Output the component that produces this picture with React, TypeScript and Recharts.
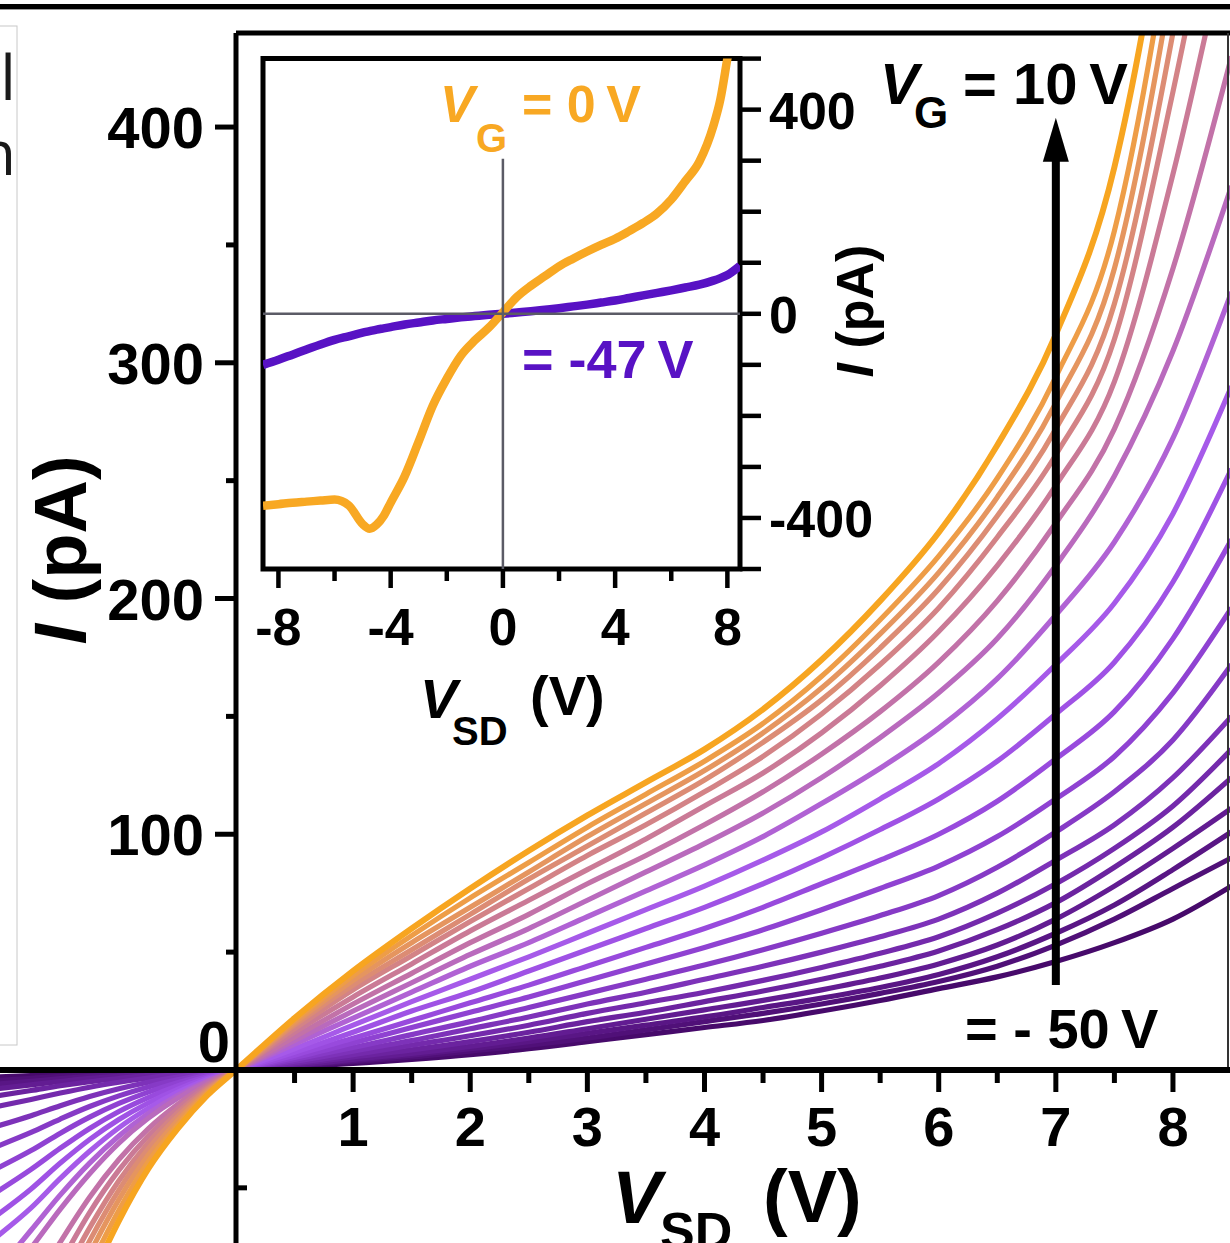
import React from 'react';
import {
  LineChart,
  Line,
  XAxis,
  YAxis,
  ReferenceLine,
  ReferenceDot,
  ReferenceArea,
} from 'recharts';

const SANS = '"Liberation Sans", Arial, Helvetica, sans-serif';

// source-drain bias of the main sweeps (V)
const biasV = [
  -2.05, -1.75, -1.5, -1.25, -1, -0.75, -0.5, -0.25, 0,
  0.5, 1, 1.5, 2, 2.5, 3, 3.5, 4, 4.5, 5, 5.5, 6, 6.5, 7, 7.5, 8, 8.5,
];

// I (pA) per gate voltage, V_G = -50 V ... +10 V in 3 V steps
const iVgM50 = [-3, -2.4, -1.8, -1.35, -0.95, -0.6, -0.35, -0.15, 0, 1.2, 2.8, 4.5, 6.5, 9, 12, 15, 18, 21, 25, 29.5, 34.5, 39.5, 46, 54, 64, 78];
const iVgM47 = [-4.5, -3.5, -2.7, -2, -1.4, -0.9, -0.5, -0.22, 0, 1.5, 3.5, 5.5, 8, 10.5, 13.5, 17, 20.5, 24, 28, 32.5, 37.5, 44, 53, 64, 77, 90];
const iVgM44 = [-6, -4.8, -3.7, -2.7, -1.9, -1.2, -0.7, -0.3, 0, 1.8, 4, 6.3, 9, 12, 15.5, 19, 22.5, 26.5, 30.5, 35, 40.5, 48, 58, 70, 85, 101];
const iVgM41 = [-8, -6.3, -4.9, -3.6, -2.6, -1.7, -0.95, -0.4, 0, 2, 4.5, 7, 10, 13.5, 17.5, 21.5, 25.5, 29.5, 34, 39, 45, 53, 64, 78, 94, 111];
const iVgM38 = [-11, -8.7, -6.7, -5, -3.6, -2.3, -1.3, -0.55, 0, 2.5, 5.5, 8.5, 12, 16, 20.5, 24.5, 29, 33.5, 38.5, 44, 50.5, 59.5, 71, 86, 103, 124];
const iVgM35 = [-15.6, -12.5, -9.8, -7.3, -5.2, -3.4, -1.9, -0.8, 0, 3, 6.5, 10.5, 14.5, 19, 24, 28.5, 33, 38, 43.5, 49.5, 56.5, 66.5, 79, 94, 112, 136];
const iVgM32 = [-24, -19.4, -15.2, -11.3, -8, -5.2, -3, -1.3, 0, 3.7, 8, 12.5, 17.5, 22.5, 28, 33, 38.5, 44, 50, 56.5, 64, 75, 89, 104, 124, 150];
const iVgM29 = [-32.6, -26.5, -20.8, -15.5, -11, -7.2, -4.2, -1.8, 0, 4.5, 9.5, 15, 20.5, 26.5, 32.5, 38.5, 44.5, 51, 58, 65.5, 74, 86, 101, 118, 140, 172];
const iVgM26 = [-42, -34.2, -26.8, -20, -14.2, -9.4, -5.4, -2.3, 0, 5.3, 11.5, 18, 24.5, 31, 38, 45, 52, 59.5, 68, 77, 86.5, 99, 115, 133, 160, 196];
const iVgM23 = [-52, -42.2, -33.2, -24.8, -17.6, -11.7, -6.8, -2.9, 0, 6.3, 13.5, 21, 28.5, 36, 44, 52, 60, 69, 79, 89, 100, 114, 132, 152, 183, 225];
const iVgM20 = [-62, -50.5, -39.5, -29.5, -21, -14, -8.2, -3.5, 0, 7.5, 16, 25, 33, 42, 51, 60, 69, 79, 90, 102, 115, 131, 151, 173, 207, 255];
const iVgM17 = [-71, -58.5, -46, -34.5, -24.5, -16.3, -9.5, -4.1, 0, 9, 19, 29, 38.5, 48, 58, 68, 78, 89, 101, 115, 130, 149, 172, 198, 236, 290];
const iVgM14 = [-86, -68, -53, -39.5, -28, -18.5, -10.8, -4.7, 0, 11, 22, 33, 44, 54, 65, 76, 87, 99, 113, 128, 145, 166, 193, 224, 268, 330];
const iVgM11 = [-93, -75.5, -59, -44, -31, -20.5, -12, -5.2, 0, 12.5, 25, 37, 49, 60, 72, 84, 96, 109, 124, 141, 160, 183, 214, 252, 305, 375];
const iVgM8 = [-115, -93, -73, -54, -38, -25, -14.7, -6.3, 0, 14, 28, 41, 54, 66, 79, 91, 104, 118, 134, 152, 173, 199, 232, 272, 340, 430];
const iVgM5 = [-128, -104, -82, -60.5, -42.5, -28, -16.5, -7.1, 0, 16, 31, 45, 59, 72, 85, 98, 112, 126, 143, 163, 186, 214, 248, 292, 380, 490];
const iVgM2 = [-140, -114, -90, -67, -47, -31, -18.2, -7.9, 0, 17.5, 34, 48.5, 63, 77, 91, 104, 118, 133, 151, 172, 196, 226, 261, 310, 415, 540];
const iVgP1 = [-150, -122, -97, -72.5, -51, -33.5, -19.8, -8.6, 0, 19, 36, 51, 66, 81, 95, 109, 123, 139, 157, 179, 204, 235, 272, 325, 440, 590];
const iVgP4 = [-160, -130, -104, -78, -55, -36.2, -21.5, -9.4, 0, 20, 38, 54, 69, 84, 99, 113, 127, 143, 162, 185, 211, 243, 283, 340, 465, 640];
const iVgP7 = [-172, -140, -111, -84, -59.5, -39, -23.3, -10.2, 0, 21, 40, 57, 73, 88, 103, 117, 131, 147, 167, 191, 218, 251, 294, 356, 490, 680];
const iVgP10 = [-180, -148, -118, -90, -64, -42, -25, -11, 0, 22, 42, 60, 77, 93, 108, 122, 136, 153, 174, 199, 228, 265, 312, 383, 520, 720];

const gateSweeps = [
  iVgM50, iVgM47, iVgM44, iVgM41, iVgM38, iVgM35, iVgM32, iVgM29, iVgM26, iVgM23, iVgM20,
  iVgM17, iVgM14, iVgM11, iVgM8, iVgM5, iVgM2, iVgP1, iVgP4, iVgP7, iVgP10,
];

// dark purple -> violet -> mauve -> orange
const sweepColors = [
  '#470a6b', '#501078', '#591685', '#621c92', '#6b239f', '#742aac', '#7d32b9',
  '#863ac6', '#8f42d2', '#984add', '#9f52e5', '#a65ae9', '#b062d4', '#b96abd',
  '#c272a8', '#ca7a96', '#d38386', '#dc8c74', '#e5955f', '#ee9d47', '#f7a520',
];

// inset sweeps over the full bias range
const insetBiasV = [
  -8.55, -8, -7.5, -7, -6.5, -6, -5.5, -5, -4.75, -4.5, -4.25, -4, -3.5, -3, -2.5, -2, -1.5, -1, -0.5, 0,
  0.5, 1, 1.5, 2, 2.5, 3, 3.5, 4, 4.5, 5, 5.5, 6, 6.5, 7, 7.5, 7.75, 8, 8.45,
];
const insetVg0 = [
  -376, -373, -370, -368, -366, -364, -375, -412, -421, -413, -396, -370, -318, -250, -180, -127, -82, -52, -27, 3,
  33, 55, 74, 93, 108, 122, 135, 147, 162, 178, 197, 224, 260, 298, 368, 420, 500, 640,
];
const insetVgM47 = [
  -100, -90, -80, -70, -60, -51, -44, -37, -34, -31, -28.5, -26, -21, -17, -13, -10, -7, -4.5, -2, 0,
  2.5, 5, 8, 11, 14.5, 18, 22, 26, 31, 36, 41, 46, 51.5, 57, 65, 70, 76, 94,
];

const xTicksMajor = [1, 2, 3, 4, 5, 6, 7, 8];
const xTicksMinor = [0.5, 1.5, 2.5, 3.5, 4.5, 5.5, 6.5, 7.5];
const yTicksMajor = [100, 200, 300, 400];
const yTicksMinor = [50, 150, 250, 350];
const yTicksBelow = [-50];

const insetXTicks = [-8, -6, -4, -2, 0, 2, 4, 6, 8];
const insetXLabels = [-8, -4, 0, 4, 8];
const insetYTicks = [-500, -400, -300, -200, -100, 0, 100, 200, 300, 400, 500];
const insetYLabels = [-400, 0, 400];

const X_DOMAIN: [number, number] = [-2.015, 8.487];
const Y_DOMAIN: [number, number] = [-73.4, 439.9];
const INSET_X: [number, number] = [-8.55, 8.45];
const INSET_Y: [number, number] = [-500, 500];

const mainRows = biasV.map((v, i) => {
  const row: Record<string, number> = { v };
  gateSweeps.forEach((s, k) => {
    row[`g${k}`] = s[i];
  });
  return row;
});

const insetRows = insetBiasV.map((v, i) => ({ v, vg0: insetVg0[i], vgm47: insetVgM47[i] }));

const label = (v: number) => (v < 0 ? `-${Math.abs(v)}` : String(v));

const boldText = {
  fontFamily: SANS,
  fontWeight: 700,
  fill: '#000',
} as const;

function GateArrow(p: any) {
  const top = Math.min(p.y1, p.y2);
  const bottom = Math.max(p.y1, p.y2);
  const x = p.x1;
  return (
    <g>
      <line x1={x} y1={bottom} x2={x} y2={top + 40} stroke="#000" strokeWidth={8} />
      <polygon points={`${x},${top} ${x - 13},${top + 44} ${x + 13},${top + 44}`} fill="#000" />
    </g>
  );
}

function InsetXTick(p: any) {
  const v = p.payload.value;
  const major = insetXLabels.includes(v);
  return (
    <g>
      <line x1={p.x} y1={p.y} x2={p.x} y2={p.y + (major ? 19 : 12)} stroke="#000" strokeWidth={4.5} />
      {major && (
        <text x={p.x} y={p.y + 76} textAnchor="middle" fontSize={52} {...boldText}>
          {label(v)}
        </text>
      )}
    </g>
  );
}

function InsetYTick(p: any) {
  const v = p.payload.value;
  const major = insetYLabels.includes(v);
  return (
    <g>
      <line x1={p.x} y1={p.y} x2={p.x + 21} y2={p.y} stroke="#000" strokeWidth={4.5} />
      {major && (
        <text x={p.x + 29} y={p.y + 19} textAnchor="start" fontSize={52} {...boldText}>
          {label(v)}
        </text>
      )}
    </g>
  );
}

function MainPanel() {
  return (
    <LineChart
      width={1230}
      height={1243}
      data={mainRows}
      margin={{ top: 33, right: 0, bottom: 0, left: 0 }}
    >
      <XAxis type="number" dataKey="v" domain={X_DOMAIN} allowDataOverflow hide />
      <YAxis type="number" domain={Y_DOMAIN} allowDataOverflow hide />
      {gateSweeps.map((_, k) => (
        <Line
          key={k}
          type="monotone"
          dataKey={`g${k}`}
          stroke={sweepColors[k]}
          strokeWidth={k === gateSweeps.length - 1 ? 6 : 5.2}
          dot={false}
          isAnimationActive={false}
        />
      ))}

      {/* frame and axes crossing at the origin */}
      <ReferenceLine
        segment={[{ x: 0, y: Y_DOMAIN[1] }, { x: X_DOMAIN[1], y: Y_DOMAIN[1] }]}
        stroke="#000"
        strokeWidth={5}
        ifOverflow="visible"
      />
      <ReferenceLine
        segment={[{ x: 8.47, y: 0 }, { x: 8.47, y: Y_DOMAIN[1] }]}
        stroke="#333"
        strokeWidth={2}
        ifOverflow="visible"
      />
      <ReferenceLine y={0} stroke="#000" strokeWidth={6} />
      <ReferenceLine x={0} stroke="#000" strokeWidth={5} />

      {xTicksMajor.map((t) => (
        <ReferenceDot
          key={`xM${t}`}
          x={t}
          y={0}
          r={0}
          ifOverflow="visible"
          shape={(p: any) => (
            <g>
              <line x1={p.cx} y1={p.cy} x2={p.cx} y2={p.cy + 22} stroke="#000" strokeWidth={5} />
              <text x={p.cx} y={p.cy + 76} textAnchor="middle" fontSize={56} {...boldText}>
                {t}
              </text>
            </g>
          )}
        />
      ))}
      {xTicksMinor.map((t) => (
        <ReferenceDot
          key={`xm${t}`}
          x={t}
          y={0}
          r={0}
          ifOverflow="visible"
          shape={(p: any) => (
            <line x1={p.cx} y1={p.cy} x2={p.cx} y2={p.cy + 13} stroke="#000" strokeWidth={5} />
          )}
        />
      ))}
      {yTicksMajor.map((t) => (
        <ReferenceDot
          key={`yM${t}`}
          x={0}
          y={t}
          r={0}
          ifOverflow="visible"
          shape={(p: any) => (
            <g>
              <line x1={p.cx - 21} y1={p.cy} x2={p.cx} y2={p.cy} stroke="#000" strokeWidth={5} />
              <text x={p.cx - 32} y={p.cy + 21} textAnchor="end" fontSize={58} {...boldText}>
                {t}
              </text>
            </g>
          )}
        />
      ))}
      {yTicksMinor.map((t) => (
        <ReferenceDot
          key={`ym${t}`}
          x={0}
          y={t}
          r={0}
          ifOverflow="visible"
          shape={(p: any) => (
            <line x1={p.cx - 10} y1={p.cy} x2={p.cx} y2={p.cy} stroke="#000" strokeWidth={5} />
          )}
        />
      ))}
      {yTicksBelow.map((t) => (
        <ReferenceDot
          key={`yb${t}`}
          x={0}
          y={t}
          r={0}
          ifOverflow="visible"
          shape={(p: any) => (
            <line x1={p.cx} y1={p.cy} x2={p.cx + 11} y2={p.cy} stroke="#000" strokeWidth={5} />
          )}
        />
      ))}
      <ReferenceDot
        x={0}
        y={0}
        r={0}
        ifOverflow="visible"
        shape={(p: any) => (
          <text x={p.cx - 6} y={p.cy - 8} textAnchor="end" fontSize={58} {...boldText}>
            0
          </text>
        )}
      />

      {/* gate-voltage direction arrow */}
      <ReferenceLine
        segment={[{ x: 7, y: 36 }, { x: 7, y: 404 }]}
        ifOverflow="visible"
        shape={GateArrow}
      />
    </LineChart>
  );
}

function InsetPanel() {
  return (
    <LineChart
      width={700}
      height={720}
      data={insetRows}
      margin={{ top: 18.6, right: 140, bottom: 131, left: 23 }}
    >
      <XAxis
        type="number"
        dataKey="v"
        domain={INSET_X}
        ticks={insetXTicks}
        interval={0}
        allowDataOverflow
        axisLine={false}
        tickLine={false}
        tickSize={0}
        tickMargin={0}
        height={60}
        tick={InsetXTick}
      />
      <YAxis
        type="number"
        orientation="right"
        domain={INSET_Y}
        ticks={insetYTicks}
        interval={0}
        allowDataOverflow
        axisLine={false}
        tickLine={false}
        tickSize={0}
        tickMargin={0}
        width={60}
        tick={InsetYTick}
      />
      <Line
        type="monotone"
        dataKey="vgm47"
        stroke="#5812c4"
        strokeWidth={8.5}
        dot={false}
        isAnimationActive={false}
      />
      <Line
        type="monotone"
        dataKey="vg0"
        stroke="#f8a823"
        strokeWidth={8.5}
        dot={false}
        isAnimationActive={false}
      />
      <ReferenceLine y={0} stroke="#5b5b66" strokeWidth={2.5} />
      <ReferenceLine
        segment={[{ x: 0, y: INSET_Y[0] }, { x: 0, y: 304 }]}
        stroke="#5b5b66"
        strokeWidth={2.5}
      />
      <ReferenceArea
        x1={INSET_X[0]}
        x2={INSET_X[1]}
        y1={INSET_Y[0]}
        y2={INSET_Y[1]}
        fill="none"
        fillOpacity={0}
        stroke="#000"
        strokeWidth={5}
        ifOverflow="visible"
      />
    </LineChart>
  );
}

function Labels() {
  return (
    <svg
      width={1230}
      height={1243}
      style={{ position: 'absolute', left: 0, top: 0, pointerEvents: 'none' }}
    >
      {/* neighbouring panel edge */}
      <rect x={-10} y={26} width={27} height={1019} fill="none" stroke="#c8c8c8" strokeWidth={1} />
      <text x={16} y={100} textAnchor="end" fontFamily='"Open Sans", sans-serif' fontSize={62} fill="#1a1a1a">
        al
      </text>
      <text x={16} y={175} textAnchor="end" fontFamily='"Open Sans", sans-serif' fontSize={62} fill="#1a1a1a">
        n
      </text>

      {/* main axis titles */}
      <text transform="translate(86,550) rotate(-90)" textAnchor="middle" fontSize={74} {...boldText}>
        <tspan fontStyle="italic">I</tspan> (pA)
      </text>
      <text fontSize={74} {...boldText}>
        <tspan x={612} y={1223} fontStyle="italic">V</tspan>
        <tspan x={660} y={1249} fontSize={52}>SD</tspan>
        <tspan x={763} y={1222}>(V)</tspan>
      </text>

      {/* gate sweep annotations */}
      <text fontSize={58} {...boldText}>
        <tspan x={880} y={104} fontStyle="italic">V</tspan>
        <tspan x={914} y={128} fontSize={44}>G</tspan>
        <tspan x={963} y={104}>= 10{'\u2009'}V</tspan>
      </text>
      <text x={965} y={1048} fontSize={56} {...boldText}>
        = - 50{'\u2009'}V
      </text>

      {/* inset titles and annotations */}
      <text fontSize={56} {...boldText}>
        <tspan x={420} y={718} fontStyle="italic">V</tspan>
        <tspan x={452} y={745} fontSize={40}>SD</tspan>
        <tspan x={530} y={715}>(V)</tspan>
      </text>
      <text transform="translate(873,311) rotate(-90)" textAnchor="middle" fontSize={52} {...boldText}>
        <tspan fontStyle="italic">I</tspan> (pA)
      </text>
      <text fontSize={52} fontFamily={SANS} fontWeight={700} fill="#f8a823">
        <tspan x={440} y={122} fontStyle="italic">V</tspan>
        <tspan x={476} y={152} fontSize={40}>G</tspan>
        <tspan x={522} y={122}>= 0{'\u2009'}V</tspan>
      </text>
      <text x={522} y={378} fontSize={54} fontFamily={SANS} fontWeight={700} fill="#5812c4">
        = -47{'\u2009'}V
      </text>
    </svg>
  );
}

export default function App() {
  return (
    <div
      style={{
        position: 'absolute',
        left: 0,
        top: 0,
        width: 1230,
        height: 1243,
        overflow: 'hidden',
        background: '#fff',
      }}
    >
      <div style={{ position: 'absolute', left: 0, top: 4, width: 1230, height: 5, background: '#000' }} />
      <div style={{ position: 'absolute', left: 0, top: 9, width: 1230, height: 1, background: '#9a9a9a' }} />
      <div style={{ position: 'absolute', left: 0, top: 0 }}>
        <MainPanel />
      </div>
      <div style={{ position: 'absolute', left: 240, top: 40 }}>
        <InsetPanel />
      </div>
      <Labels />
    </div>
  );
}
